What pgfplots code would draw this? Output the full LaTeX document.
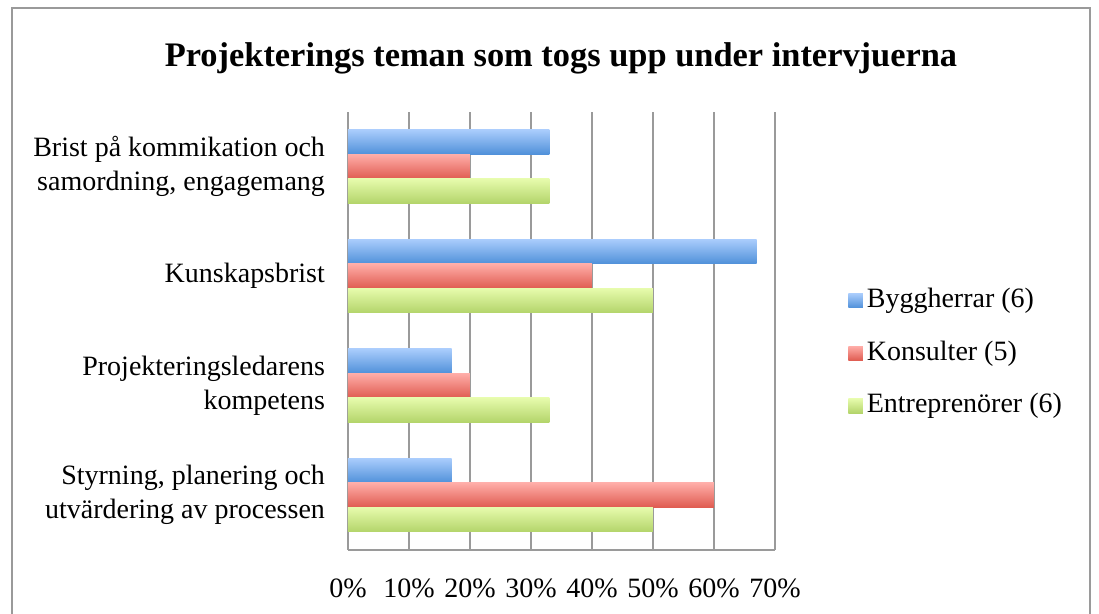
\documentclass[border=0pt]{standalone}
\usepackage{pgfplots}
\pgfplotsset{compat=1.18}
\usepackage{fontspec}
\setmainfont{Liberation Serif}
\definecolor{btop}{HTML}{A9CCFC}
\definecolor{bbot}{HTML}{4F90D9}
\definecolor{rtop}{HTML}{FFADA8}
\definecolor{rbot}{HTML}{DF5B50}
\definecolor{gtop}{HTML}{E6FBAC}
\definecolor{gbot}{HTML}{B3D46A}
\definecolor{gridc}{HTML}{9A9A9A}
\pgfplotsset{
  bygg/.style={draw=none, top color=btop, bottom color=bbot, bar shift=12.25pt},
  kons/.style={draw=none, top color=rtop, bottom color=rbot, bar shift=0pt},
  entr/.style={draw=none, top color=gtop, bottom color=gbot, bar shift=-12.25pt},
}
\begin{document}
\begin{tikzpicture}
\path[use as bounding box] (0,0) rectangle (549.5pt,307pt);
\draw[color=gridc, line width=0.7pt] (6pt,-5pt) rectangle (545pt,303pt);
\node[font=\bfseries\fontsize{17.2}{20}\selectfont] at (280.5pt,278pt) {Projekterings teman som togs upp under intervjuerna};
\begin{axis}[
  at={(174pt,32pt)}, anchor=south west, scale only axis,
  width=213.5pt, height=219pt,
  xbar=0pt, bar width=12.25pt,
  xmin=0, xmax=70, ymin=-0.5, ymax=3.5,
  xtick={0,10,...,70},
  xticklabels={0\%,10\%,20\%,30\%,40\%,50\%,60\%,70\%},
  ytick={0,1,2,3},
  yticklabels={{Styrning, planering och\\utvärdering av processen},{Projekteringsledarens\\kompetens},{Kunskapsbrist},{Brist på kommikation och\\samordning, engagemang}},
  axis lines=left,
  axis line style={-, draw=gridc, line width=0.75pt},
  tick style={draw=none},
  major tick length=0pt,
  xmajorgrids,
  major grid style={draw=gridc, line width=0.75pt},
  ticklabel style={font=\fontsize{14}{17}\selectfont},
  xticklabel style={yshift=-11pt},
  yticklabel style={align=right, xshift=-8pt},
  legend style={at={(1.157,0.449)}, anchor=west, draw=none, fill=none,
    font=\fontsize{14}{17}\selectfont, row sep=9.3pt, column sep=0pt,
    nodes={text height=10pt, text depth=3pt}},
  legend cell align=left,
  legend image code/.code={\path[#1, draw=none] (0pt,-3.6pt) rectangle (7.2pt,3.6pt);},
]
% Byggherrar (6)
\addplot[bygg] coordinates {(17,0)};
\addlegendentry{Byggherrar (6)}
% Konsulter (5)
\addplot[kons] coordinates {(60,0)};
\addlegendentry{Konsulter (5)}
% Entreprenörer (6)
\addplot[entr] coordinates {(50,0)};
\addlegendentry{Entreprenörer (6)}
\addplot[bygg, forget plot] coordinates {(17,1)};
\addplot[bygg, forget plot] coordinates {(67,2)};
\addplot[bygg, forget plot] coordinates {(33,3)};
\addplot[kons, forget plot] coordinates {(20,1)};
\addplot[kons, forget plot] coordinates {(40,2)};
\addplot[kons, forget plot] coordinates {(20,3)};
\addplot[entr, forget plot] coordinates {(33,1)};
\addplot[entr, forget plot] coordinates {(50,2)};
\addplot[entr, forget plot] coordinates {(33,3)};
\end{axis}
\end{tikzpicture}
\end{document}
